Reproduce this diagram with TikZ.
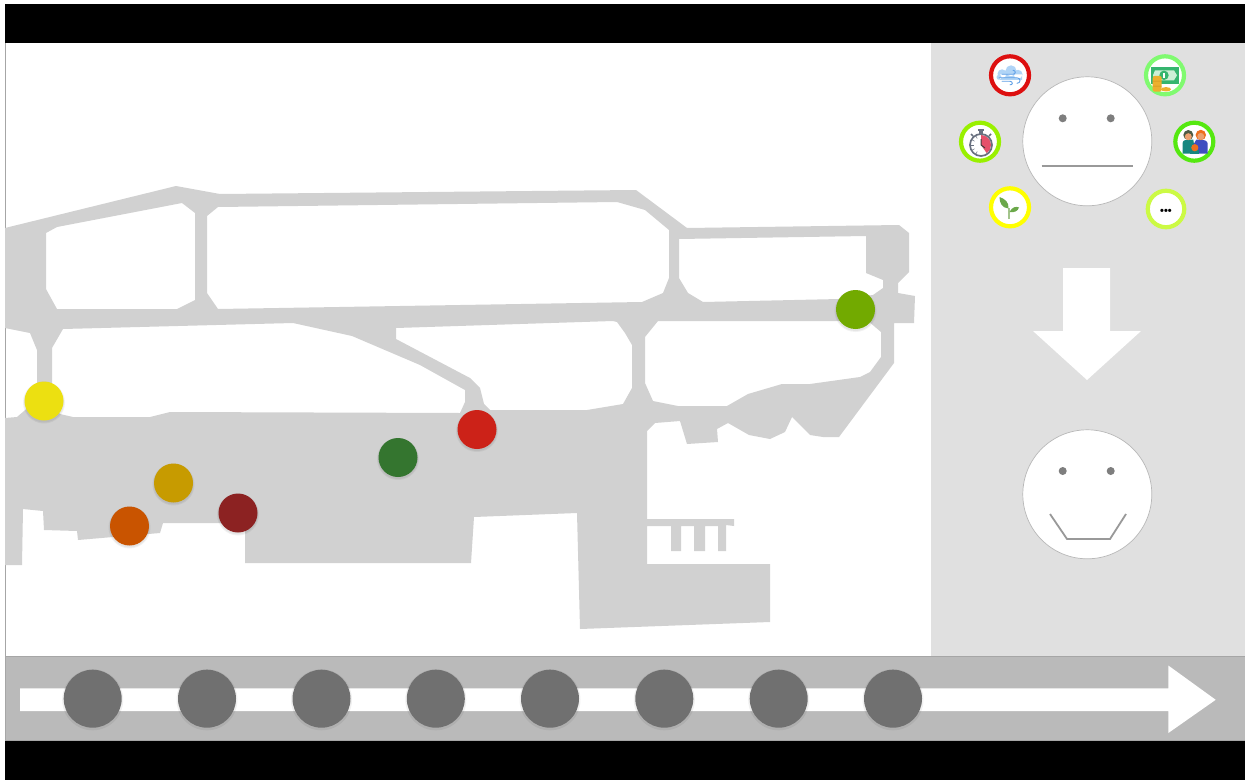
\documentclass[tikz,border=0pt]{standalone}
\usepackage{fontspec}
\setmainfont{Liberation Sans}
\usetikzlibrary{calc}
\definecolor{plan}{HTML}{D1D1D1}
\definecolor{panel}{HTML}{E0E0E0}
\definecolor{barc}{HTML}{BABABA}
\definecolor{knob}{HTML}{707070}
\definecolor{faceline}{HTML}{999999}
\definecolor{cloudc}{HTML}{B0D4F6}
\definecolor{windc}{HTML}{5F9FE6}
\definecolor{billc}{HTML}{35B56E}
\definecolor{billin}{HTML}{CDEFD6}
\definecolor{coinc}{HTML}{EDB02E}
\definecolor{coind}{HTML}{C98F1E}
\definecolor{clockc}{HTML}{68707F}
\definecolor{clockr}{HTML}{E5506A}
\definecolor{skinc}{HTML}{EBA070}
\definecolor{manh}{HTML}{4C5A44}
\definecolor{womh}{HTML}{EE6F1E}
\definecolor{manb}{HTML}{17877F}
\definecolor{womb}{HTML}{3F4DC0}
\definecolor{leafc}{HTML}{6BA84A}
\definecolor{stemc}{HTML}{A3C48C}
\tikzset{
  dotnode/.style={circle,minimum size=39pt,inner sep=0pt,draw=none},
  knobnode/.style={circle,minimum size=58pt,inner sep=0pt,fill=knob,draw=none},
  facenode/.style={circle,minimum size=129pt,inner sep=0pt,fill=white,draw=black!28,line width=.7pt},
  eyenode/.style={circle,minimum size=8pt,inner sep=0pt,fill=knob!90,draw=none},
  ringnode/.style={circle,minimum size=38pt,inner sep=0pt,fill=white,line width=4.2pt},
  mouthline/.style={draw=faceline,line width=1.8pt},
  softshadow/.style={fill=black,opacity=.05,draw=none},
}
\newcommand{\softdot}[2]{%
  \fill[softshadow] (#1,#2+1.5) circle (21);
  \fill[softshadow] (#1,#2+1.5) circle (20);
}
\begin{document}
\begin{tikzpicture}[x=1pt,y=-1pt]
\useasboundingbox (0,0) rectangle (1249,781);
\fill[white] (0,0) rectangle (1249,781);
% frame bands
\fill[black] (5,4) rectangle (1245,43);
\fill[panel] (931,43) rectangle (1245,656);
\fill[barc] (5,656) rectangle (1245,741);
\draw[black!35,line width=.8pt] (5,43) -- (5,741);
\draw[black!35,line width=.8pt] (5,656.5) -- (1245,656.5);
\draw[black!35,line width=.8pt] (5,740.5) -- (1245,740.5);
\fill[black] (5,741) rectangle (1245,780);
% plan
\fill[plan,even odd rule]
 (5,228) -- (176,186) -- (220,194) -- (636,190) -- (687,228) -- (899,225) -- (909,233) -- (909,272)
 -- (898,283) -- (898,293) -- (915,296) -- (914,323) -- (894,323) -- (894,363) -- (839,437) -- (823,437)
 -- (810,435) -- (792,417) -- (785,432) -- (770,439) -- (749,435) -- (728,423) -- (717,429) -- (718,442)
 -- (687,444) -- (680,421) -- (655,423) -- (647,431) -- (647,519) -- (734,519) -- (734,526) -- (726,525)
 -- (726,551) -- (718,551) -- (718,526) -- (705,526) -- (705,551) -- (694,551) -- (694,526) -- (681,526)
 -- (681,551) -- (671,551) -- (671,526) -- (647,526) -- (647,564) -- (770,564) -- (770,622) -- (580,629)
 -- (577,513) -- (474,517) -- (471,563) -- (245,563) -- (245,523) -- (163,523) -- (160,533) -- (78,540)
 -- (77,531) -- (44,530) -- (43,511) -- (23,509) -- (22,565) -- (5,565) -- (5,418) -- (17,417) -- (37,400)
 -- (37,350) -- (30,333) -- (5,328) -- cycle
 (57,227) -- (182,203) -- (195,213) -- (195,300) -- (177,309) -- (57,309) -- (46,289) -- (46,233) -- cycle
 (218,207) -- (207,216) -- (207,293) -- (218,309) -- (642,302) -- (663,293) -- (669,278) -- (669,230)
 -- (645,210) -- (617,202) -- cycle
 (679,239) -- (866,236) -- (866,273) -- (883,280) -- (883,288) -- (873,295) -- (840,299) -- (703,302)
 -- (688,293) -- (679,278) -- cycle
 (52,348) -- (63,329) -- (293,323) -- (352,336) -- (420,365) -- (465,390) -- (465,402) -- (460,413)
 -- (170,412) -- (150,417) -- (73,417) -- (60,414) -- (52,405) -- cycle
 (396,328) -- (613,321) -- (617,322) -- (625,333) -- (632,345) -- (632,388) -- (623,404) -- (587,410)
 -- (490,410) -- (484,404) -- (480,388) -- (470,378) -- (396,339) -- cycle
 (658,321) -- (645,337) -- (645,383) -- (653,401) -- (678,406) -- (727,406) -- (748,394) -- (782,384)
 -- (810,384) -- (860,377) -- (870,372) -- (881,357) -- (881,332) -- (868,321) -- cycle;
% coloured dots
\softdot{44}{401}\node[dotnode,fill={rgb,255:red,236;green,224;blue,17}] (dyellow) at (44,401) {};
\softdot{173.5}{483}\node[dotnode,fill={rgb,255:red,199;green,155;blue,0}] (dgold) at (173.5,483) {};
\softdot{129.5}{526}\node[dotnode,fill={rgb,255:red,201;green,84;blue,0}] (dorange) at (129.5,526) {};
\softdot{238}{513}\node[dotnode,fill={rgb,255:red,140;green,34;blue,34}] (ddark) at (238,513) {};
\softdot{398}{457.5}\node[dotnode,fill={rgb,255:red,52;green,117;blue,47}] (dgreen) at (398,457.5) {};
\softdot{477}{429.5}\node[dotnode,fill={rgb,255:red,204;green,34;blue,24}] (dred) at (477,429.5) {};
\softdot{855.5}{309.5}\node[dotnode,fill={rgb,255:red,114;green,170;blue,0}] (dlime) at (855.5,309.5) {};
% faces
\node[facenode] (faceA) at (1087.3,141.3) {};
\node[eyenode] (eyeAl) at (1062.7,118.3) {};
\node[eyenode] (eyeAr) at (1110.7,118.3) {};
\coordinate (mAl) at (1041.7,166.3);
\coordinate (mAr) at (1133.3,166.3);
\draw[mouthline] (mAl) -- (mAr);
\node[facenode] (faceB) at (1087.3,494.3) {};
\node[eyenode] (eyeBl) at (1062.7,471) {};
\node[eyenode] (eyeBr) at (1110.7,471) {};
\coordinate (mB1) at (1050,514);
\coordinate (mB2) at (1067,539);
\coordinate (mB3) at (1110,539);
\coordinate (mB4) at (1126,514);
\draw[mouthline] (mB1) -- (mB2) -- (mB3) -- (mB4);
% down arrow
\fill[white] (1063,268) -- (1110,268) -- (1110,331) -- (1141,331) -- (1087,380) -- (1033,331) -- (1063,331) -- cycle;
% rings
\node[ringnode,draw={rgb,255:red,221;green,16;blue,16}] (rwind) at (1010,75.3) {};
\node[ringnode,draw={rgb,255:red,128;green,250;blue,112}] (rmoney) at (1165,75.3) {};
\node[ringnode,draw={rgb,255:red,153;green,240;blue,0}] (rclock) at (980,141.7) {};
\node[ringnode,draw={rgb,255:red,85;green,232;blue,16}] (rfamily) at (1194.3,141.7) {};
\node[ringnode,draw={rgb,255:red,255;green,255;blue,0}] (rplant) at (1010,207.3) {};
\node[ringnode,minimum size=36.5pt,draw={rgb,255:red,204;green,250;blue,68}] (rmore) at (1166,209) {};
% wind icon
\begin{scope}[shift={(1010,75.3)}]
 \fill[cloudc] (-8,-1.5) circle (4.5) (1,-4.5) circle (5.5) (8,-1) circle (4.5) (-11,2) circle (2.5) (-10,-1) rectangle (12,4.5);
 \draw[windc,line width=.9pt,line cap=round] (-8,-1) -- (3,-1) .. controls (6,-1) and (6,-5) .. (3,-5);
 \draw[windc,line width=.9pt,line cap=round] (-11,2.5) -- (7,2.5) .. controls (11,2.5) and (11,8) .. (7,8);
 \draw[windc,line width=.9pt,line cap=round] (-8,6) -- (0,6) .. controls (3,6) and (3,10) .. (0,9.5);
\end{scope}
% money icon
\begin{scope}[shift={(1165,75.3)}]
 \fill[billc] (-14.5,-8.5) rectangle (14,9);
 \fill[billin] (-10,-5) -- (9,-5) -- (12,0) -- (9,5) -- (-10,5) -- (-12,0) -- cycle;
 \fill[billc] (-1,0) circle (4.7);
 \fill[white] (-1.6,-2.6) rectangle (-.4,2.6);
 \fill[coinc,rounded corners=2pt] (-12.3,.7) rectangle (-3.3,16.4);
 \fill[coind] (-12.3,5.5) rectangle (-3.3,6.1) (-12.3,10.5) rectangle (-3.3,11.1);
 \fill[coinc] (1,14) ellipse (5 and 2.2);
\end{scope}
% clock icon
\begin{scope}[shift={(981,145)}]
 \fill[clockc] (-1.6,-15) rectangle (1.6,-11);
 \fill[clockc] (-3,-16) rectangle (3,-14.4);
 \draw[clockc,line width=1.5pt] (-10,-11) -- (-8,-9) (10,-11) -- (8,-9);
 \fill[white] (0,0) circle (11);
 \fill[clockr] (0,0) -- (0,-10) arc (-90:55:10) -- cycle;
 \foreach \a in {120,150,180,210,240}{\draw[clockc,line width=.5pt] (\a:7.5) -- (\a:10);}
 \draw[clockc,line width=1.7pt] (0,0) circle (11);
 \draw[black!75,line width=1pt] (0,-6) -- (0,0) -- (4,3);
\end{scope}
% family icon
\begin{scope}[shift={(1194.3,141.7)}]
 \fill[manb] (-11.6,12) -- (-11.6,1) .. controls (-11.6,-1.5) and (-8,-2) .. (-6,-2) -- (-1,-2) -- (1,12) -- cycle;
 \fill[womb] (13.4,12) -- (13.4,2) .. controls (13.4,-1) and (9,-2) .. (7,-2) -- (2,-2) -- (-1,3) -- (0,12) -- cycle;
 \fill[womh] (6.5,-6.7) circle (5.2);
 \fill[skinc] (6.5,-5.3) circle (3.5);
 \fill[manh] (-6,-6.7) circle (5);
 \fill[skinc] (-6,-5) circle (3.5);
 \fill[manb] (-4.5,12) -- (-4.5,8.5) -- (5,8.5) -- (5,12) -- cycle;
 \fill[womh] (.5,6) circle (3.6);
\end{scope}
% plant icon
\begin{scope}[shift={(1009,208)}]
 \draw[stemc,line width=1.6pt] (0,11) -- (0,0);
 \fill[leafc] (-0.5,0.5) .. controls (-7,0) and (-9.5,-5) .. (-9.5,-11) .. controls (-4,-9) and (0,-6) .. (-0.5,0.5) -- cycle;
 \fill[leafc] (.5,4) .. controls (3,-1) and (7,-2) .. (10,-.5) .. controls (9,3) and (5,5) .. (.5,4) -- cycle;
\end{scope}
\node[inner sep=0pt,font=\bfseries\fontsize{11}{11}\selectfont] (tmore) at (1166,211.5) {•••};
% timeline
\fill[white] (20,688.3) -- (1168.3,688.3) -- (1168.3,665.5) -- (1215.7,699.8) -- (1168.3,733) -- (1168.3,711) -- (20,711) -- cycle;
\foreach \n/\x in {1/92.7,2/207,3/321.5,4/435.8,5/550,6/664.3,7/778.7,8/893}{
  \fill[black,opacity=.06] (\x,699.8) circle (30.5);
  \node[knobnode] (k\n) at (\x,698.7) {};
}
\end{tikzpicture}
\end{document}
